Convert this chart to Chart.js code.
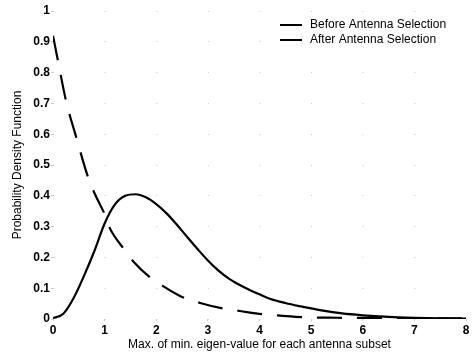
<!DOCTYPE html>
<html>
<head>
<meta charset="utf-8">
<script src="https://cdn.jsdelivr.net/npm/chart.js@4"></script>
<style>
  html, body { margin: 0; padding: 0; background: #fff; }
</style>
</head>
<body>
<canvas id="pdf-chart" width="473" height="353"></canvas>
<script>
// values
const beforeX = [0, 0.2, 0.4, 0.6, 0.8, 1.0, 1.2, 1.4, 1.6, 1.8, 2.0, 2.2, 2.4, 2.6, 2.8, 3.0, 3.2, 3.4, 3.6, 3.8, 4.0, 4.2, 4.5, 4.8, 5.2, 5.6, 6.0, 6.5, 7.0, 7.5, 8.0];
const beforeY = [0.003, 0.017, 0.068, 0.14, 0.22, 0.31, 0.372, 0.4, 0.405, 0.395, 0.373, 0.343, 0.306, 0.266, 0.227, 0.19, 0.158, 0.132, 0.112, 0.095, 0.08, 0.066, 0.052, 0.041, 0.028, 0.018, 0.012, 0.007, 0.004, 0.002, 0.001];
const afterX = [0, 0.1, 0.25, 0.45, 0.68, 0.8, 1.0, 1.1, 1.36, 1.56, 1.88, 2.14, 2.46, 2.85, 3.3, 3.62, 4.08, 4.4, 4.85, 5.5, 6.5, 8.0];
const afterY = [0.92, 0.835, 0.71, 0.59, 0.46, 0.41, 0.34, 0.295, 0.23, 0.186, 0.135, 0.106, 0.075, 0.052, 0.034, 0.026, 0.015, 0.011, 0.006, 0.004, 0.003, 0.002];
const seriesNames = ['Before Antenna Selection', 'After Antenna Selection'];
const xTitle = 'Max. of min. eigen-value for each antenna subset';
const yTitle = 'Probability Density Function';

const FONT = '"Liberation Sans", Arial, Helvetica, sans-serif';

function toPoints(xs, ys) {
    return xs.map((x, i) => ({ x: x, y: ys[i] }));
}

// legend drawn inside the plot, top right, like the original
const innerLegend = {
    id: 'innerLegend',
    afterDraw(chart) {
        const ctx = chart.ctx;
        ctx.save();
        ctx.font = '12px ' + FONT;
        ctx.fillStyle = '#000';
        ctx.textBaseline = 'middle';
        chart.data.datasets.forEach((ds, i) => {
            const y = 25 + i * 15;
            ctx.beginPath();
            ctx.lineWidth = 2;
            ctx.strokeStyle = '#000';
            ctx.setLineDash(ds.borderDash || []);
            ctx.moveTo(280, y);
            ctx.lineTo(302, y);
            ctx.stroke();
            ctx.fillText(ds.label, 310, y);
        });
        ctx.restore();
    }
};

new Chart(document.getElementById('pdf-chart'), {
    type: 'line',
    data: {
        datasets: [
            {
                label: seriesNames[0],
                data: toPoints(beforeX, beforeY),
                borderColor: '#000',
                borderWidth: 2.2,
                pointRadius: 0,
                cubicInterpolationMode: 'monotone'
            },
            {
                label: seriesNames[1],
                data: toPoints(afterX, afterY),
                borderColor: '#000',
                borderWidth: 2.2,
                borderDash: [25, 15],
                pointRadius: 0,
                cubicInterpolationMode: 'monotone'
            }
        ]
    },
    options: {
        responsive: false,
        animation: false,
        layout: { padding: { top: 11, right: 7, left: 0, bottom: 0 } },
        plugins: {
            legend: { display: false },
            tooltip: { enabled: false }
        },
        scales: {
            x: {
                type: 'linear',
                min: 0,
                max: 8,
                afterFit: (scale) => { scale.height = 34; },
                ticks: {
                    stepSize: 1,
                    color: '#000',
                    padding: 2,
                    maxRotation: 0,
                    font: { family: FONT, size: 12, weight: 'bold' }
                },
                grid: { drawOnChartArea: false, tickLength: 2, tickColor: '#ccc' },
                border: { display: false },
                title: {
                    display: true,
                    text: xTitle,
                    color: '#000',
                    padding: { top: 0, bottom: 1 },
                    font: { family: FONT, size: 12 }
                }
            },
            y: {
                min: 0,
                max: 1,
                afterFit: (scale) => { scale.width = 53; },
                ticks: {
                    stepSize: 0.1,
                    color: '#000',
                    padding: 1,
                    font: { family: FONT, size: 12, weight: 'bold' },
                    callback: (v) => String(Number(v.toFixed(1)))
                },
                grid: {
                    color: '#c8c8c8',
                    tickLength: 2,
                    tickColor: '#ccc'
                },
                border: { display: false, dash: [1, 50.6] },
                title: {
                    display: true,
                    text: yTitle,
                    color: '#000',
                    padding: { top: 10, bottom: 0 },
                    font: { family: FONT, size: 12 }
                }
            }
        }
    },
    plugins: [innerLegend]
});
</script>
</body>
</html>
